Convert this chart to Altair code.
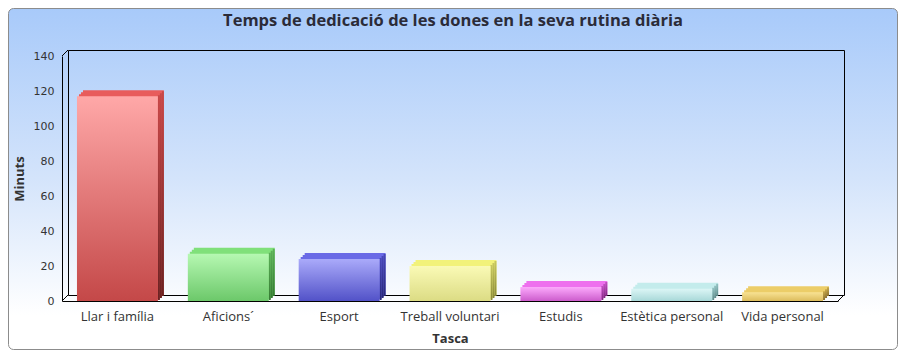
import altair as alt
import pandas as pd

# ---- data ----
categories = ["Llar i família", "Aficions´", "Esport", "Treball voluntari",
              "Estudis", "Estètica personal", "Vida personal"]
values = [117, 27, 24, 20, 8, 7, 5]
y_ticks = [0, 20, 40, 60, 80, 100, 120, 140]
title_text = "Temps de dedicació de les dones en la seva rutina diària"
x_title = "Tasca"
y_title = "Minuts"

# ---- styles ----
front_top = ["#ffa8a8", "#b6f8b2", "#aaaafa", "#fafab6", "#fcaafc", "#dcf6f6", "#f8e294"]
front_bottom = ["#c44848", "#6cc86a", "#5252c8", "#dcdc84", "#cc5ccc", "#a8d8d8", "#dcbc5c"]
top_face = ["#e85c5c", "#80e07a", "#6a6ae6", "#f2f27a", "#ee70ee", "#c4ecec", "#eccd68"]
side_top = ["#c84848", "#5cb058", "#4848b8", "#c8c860", "#c050c0", "#92c2c2", "#c8a848"]
side_bottom = ["#6a2222", "#357a33", "#282878", "#8a8a3a", "#802880", "#5e8a8a", "#8a7030"]

W, H = 776, 245
D = 6
STEPS = [2, 4, 6]
PAD_INNER = 0.27
STEP = W / len(categories)
HALF_BAR = (1 - PAD_INNER) * STEP / 2


def grad(c1, c2):
    return alt.Gradient(gradient="linear",
                        stops=[alt.GradientStop(color=c1, offset=0),
                               alt.GradientStop(color=c2, offset=1)],
                        x1=0, x2=0, y1=0, y2=1)


df = pd.DataFrame({"Tasca": categories, "Minuts": values})
deco = alt.Data(values=[{"k": 0}])

x_scale = alt.Scale(domain=categories, paddingInner=PAD_INNER, paddingOuter=PAD_INNER / 2)
y_scale = alt.Scale(domain=[0, 140])

x_axis = alt.Axis(title=x_title, labelAngle=0, ticks=False, grid=False,
                  domainColor="#000000", domainWidth=1,
                  labelFont="Open Sans", labelFontSize=13, labelColor="#333333",
                  labelPadding=9, titleFont="Open Sans", titleFontSize=13,
                  titleFontWeight="bold", titleColor="#333333", titlePadding=9,
                  zindex=1)
y_axis = alt.Axis(title=y_title, values=y_ticks, ticks=False, grid=False,
                  domainColor="#000000", domainWidth=1,
                  labelFont="DejaVu Sans", labelFontSize=11, labelColor="#333333",
                  labelPadding=8, titleFont="Open Sans", titleFontSize=13,
                  titleFontWeight="bold", titleColor="#333333", titlePadding=7,
                  zindex=1)

# background panel
bg = alt.Chart(deco).mark_rect(
    fill=alt.Gradient(gradient="linear",
                      stops=[alt.GradientStop(color="#a8cafa", offset=0),
                             alt.GradientStop(color="#d4e4fb", offset=0.5),
                             alt.GradientStop(color="#ffffff", offset=0.9),
                             alt.GradientStop(color="#ffffff", offset=1)],
                      x1=0, x2=0, y1=0, y2=1),
    stroke="#8c8c8c", strokeWidth=1, cornerRadius=5
).encode(x=alt.value(-53.5), x2=alt.value(835.5), y=alt.value(-47.5), y2=alt.value(293.5))


def seg(x1, y1, x2, y2):
    return alt.Chart(deco).mark_rule(color="#000000", strokeWidth=1).encode(
        x=alt.value(x1), y=alt.value(y1), x2=alt.value(x2), y2=alt.value(y2))


frame = [
    seg(D + 0.5, -D + 0.5, D + 0.5, H - D + 0.5),          # back left
    seg(D + 0.5, -D + 0.5, W + D + 0.5, -D + 0.5),          # back top
    seg(W + D + 0.5, -D + 0.5, W + D + 0.5, H - D + 0.5),   # back right
    seg(D + 0.5, H - D + 0.5, W + D + 0.5, H - D + 0.5),    # back floor
    seg(0, 0, D, -D),                                       # top-left diagonal
    seg(0, H, D, H - D),                                    # bottom-left diagonal
    seg(W, H, W + D, H - D),                                # bottom-right diagonal
]

x_enc = alt.X("Tasca:N", scale=x_scale, axis=x_axis, sort=categories)
y_enc = alt.Y("Minuts:Q", scale=y_scale, axis=y_axis)

# top faces (solid colours via a category scale), stepped to form a bevel
top_layers = [
    alt.Chart(df).mark_bar(xOffset=k, yOffset=-k).encode(
        x=x_enc, y=y_enc,
        fill=alt.Fill("Tasca:N", scale=alt.Scale(domain=categories, range=top_face), legend=None))
    for k in STEPS
]

side_layers = []
front_layers = []
for i, c in enumerate(categories):
    base = alt.Chart(df).transform_filter(alt.FieldEqualPredicate(field="Tasca", equal=c))
    for k in STEPS:
        side_layers.append(
            base.mark_bar(width=2, xOffset=HALF_BAR + k - 1, yOffset=-(k - 1),
                          fill=grad(side_top[i], side_bottom[i])).encode(x=x_enc, y=y_enc))
    front_layers.append(
        base.mark_bar(fill=grad(front_top[i], front_bottom[i])).encode(x=x_enc, y=y_enc))

title = alt.Chart(deco).mark_text(
    text=title_text, font="Open Sans", fontSize=16.5, fontWeight="bold",
    color="#2b2b38", align="center", baseline="middle"
).encode(x=alt.value(391), y=alt.value(-35))

chart = alt.layer(bg, *frame, *top_layers, *side_layers, *front_layers, title).properties(
    width=W, height=H,
    autosize=alt.AutoSizeParams(type="none"),
    padding={"left": 54, "top": 48, "right": 60, "bottom": 49},
).configure_view(stroke=None)

chart.save("out.html", embed_options={"renderer": "svg", "actions": False})
